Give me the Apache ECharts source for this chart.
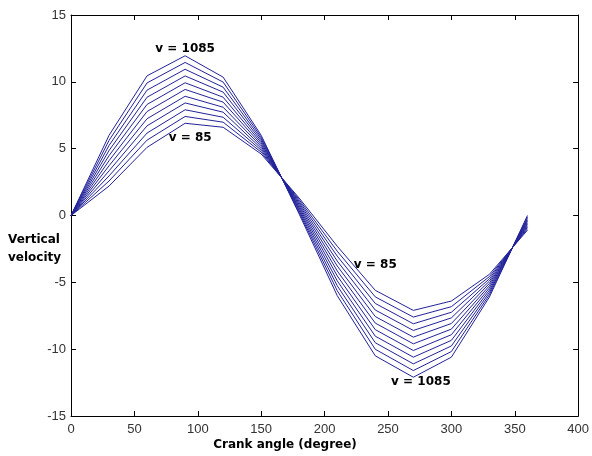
<!DOCTYPE html>
<html>
<head>
<meta charset="utf-8">
<script src="https://cdn.jsdelivr.net/npm/echarts@6/dist/echarts.min.js"></script>
<style>html,body{margin:0;padding:0;background:#fff;}#c{width:592px;height:456px;}</style>
</head>
<body>
<div id="c"></div>
<script>
var crankAngle = [0, 30, 60, 90, 120, 150, 180, 210, 240, 270, 300, 330, 360];
var seriesNames = ['v = 85','v = 185','v = 285','v = 385','v = 485','v = 585','v = 685','v = 785','v = 885','v = 985','v = 1085'];
var v85   = [0, 2.2, 5.1, 6.9, 6.6, 4.6, 1.3, -2.3, -5.6, -7.1, -6.4, -4.4, -1.1];
var v185  = [0, 2.58, 5.64, 7.41, 6.98, 4.74, 1.18, -2.67, -6.09, -7.6, -6.82, -4.57, -0.99];
var v285  = [0, 2.96, 6.17, 7.91, 7.35, 4.88, 1.06, -3.04, -6.58, -8.1, -7.24, -4.74, -0.88];
var v385  = [0, 3.34, 6.71, 8.42, 7.73, 5.02, 0.94, -3.41, -7.07, -8.6, -7.66, -4.91, -0.77];
var v485  = [0, 3.72, 7.24, 8.92, 8.1, 5.16, 0.82, -3.78, -7.56, -9.1, -8.08, -5.08, -0.66];
var v585  = [0, 4.1, 7.78, 9.43, 8.48, 5.3, 0.7, -4.15, -8.05, -9.6, -8.5, -5.25, -0.55];
var v685  = [0, 4.48, 8.31, 9.93, 8.85, 5.44, 0.58, -4.52, -8.54, -10.1, -8.92, -5.42, -0.44];
var v785  = [0, 4.86, 8.85, 10.44, 9.23, 5.58, 0.46, -4.89, -9.03, -10.6, -9.34, -5.59, -0.33];
var v885  = [0, 5.24, 9.38, 10.94, 9.6, 5.72, 0.34, -5.26, -9.52, -11.1, -9.76, -5.76, -0.22];
var v985  = [0, 5.62, 9.92, 11.45, 9.98, 5.86, 0.22, -5.63, -10.01, -11.6, -10.18, -5.93, -0.11];
var v1085 = [0, 6.0, 10.45, 11.95, 10.35, 6.0, 0.1, -6.0, -10.5, -12.1, -10.6, -6.1, 0];
var allValues = [v85, v185, v285, v385, v485, v585, v685, v785, v885, v985, v1085];

// annotation texts and their data-space anchor points
var noteTexts = ['v = 1085', 'v = 85', 'v = 85', 'v = 1085'];
var noteX = [90, 94, 240, 276];
var noteY = [12.5, 5.8, -3.7, -12.45];

var xTitle = 'Crank angle (degree)';
var yTitle = 'Vertical\nvelocity';

var chart = echarts.init(document.getElementById('c'), null, {renderer: 'canvas'});
var FONT = 'Liberation Sans, Arial, sans-serif';
var BOLD = 'bold 12px "DejaVu Sans", Verdana, sans-serif';

var series = allValues.map(function (vals, i) {
  return {
    name: seriesNames[i],
    type: 'line',
    xAxisIndex: 0, yAxisIndex: 0,
    symbol: 'none',
    silent: true,
    lineStyle: {color: '#22229a', width: 1},
    data: crankAngle.map(function (a, j) { return [a, vals[j]]; })
  };
});

var axisCommon = {
  axisLine: {show: true, onZero: false, lineStyle: {color: '#000', width: 1}},
  axisTick: {show: true, inside: true, length: 5, lineStyle: {color: '#000', width: 1}},
  splitLine: {show: false}
};

chart.setOption({
  animation: false,
  backgroundColor: '#fff',
  grid: {left: 71, right: 13, top: 15, bottom: 40},
  xAxis: [
    Object.assign({type: 'value', min: 0, max: 400, interval: 50, position: 'bottom',
      axisLabel: {color: '#333', fontFamily: FONT, fontSize: 13, margin: 7}}, axisCommon),
    Object.assign({type: 'value', min: 0, max: 400, interval: 50, position: 'top',
      axisLabel: {show: false}}, axisCommon)
  ],
  yAxis: [
    Object.assign({type: 'value', min: -15, max: 15, interval: 5, position: 'left',
      axisLabel: {color: '#333', fontFamily: FONT, fontSize: 13, margin: 5}}, axisCommon),
    Object.assign({type: 'value', min: -15, max: 15, interval: 5, position: 'right',
      axisLabel: {show: false}}, axisCommon)
  ],
  series: series
});

var graphics = [];
for (var k = 0; k < noteTexts.length; k++) {
  var p = chart.convertToPixel({gridIndex: 0}, [noteX[k], noteY[k]]);
  graphics.push({
    type: 'text', x: p[0], y: p[1], silent: true,
    style: {text: noteTexts[k], fill: '#000', font: BOLD, textAlign: 'center', textVerticalAlign: 'middle'}
  });
}
graphics.push({
  type: 'text', x: 285, y: 445, silent: true,
  style: {text: xTitle, fill: '#000', font: BOLD, textAlign: 'center', textVerticalAlign: 'middle'}
});
graphics.push({
  type: 'text', x: 8, y: 249, silent: true,
  style: {text: yTitle, fill: '#000', font: BOLD, textAlign: 'left', textVerticalAlign: 'middle', lineHeight: 18}
});
chart.setOption({graphic: graphics});
</script>
</body>
</html>
